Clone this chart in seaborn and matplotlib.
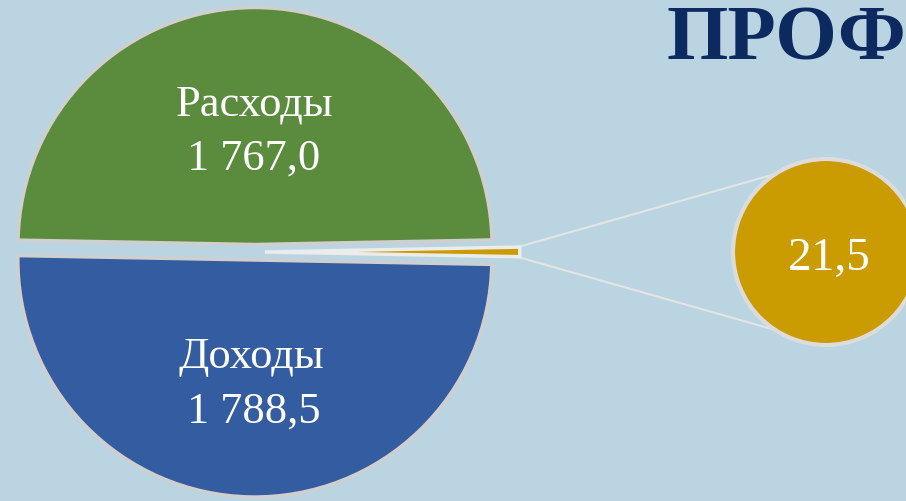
import numpy as np
import matplotlib
matplotlib.use("Agg")
import matplotlib.pyplot as plt
import seaborn as sns

# data
names = ["Расходы", "Доходы", ""]
values = [1767.0, 1788.5, 21.5]
value_labels = ["1 767,0", "1 788,5", "21,5"]
colors = ["#5b8b3d", "#345ca0", "#cb9b02"]
title = "ПРОФ"

sns.set_style("white")
plt.rcParams["font.family"] = ["Liberation Serif", "DejaVu Serif"]

bg = "#bad5e1"
W, H = 906, 502
fig = plt.figure(figsize=(W / 100, H / 100), dpi=100, facecolor=bg)
ax = fig.add_axes([0, 0, 1, 1])
ax.set_facecolor(bg)

# main pie (pixel coordinates, y measured upward); explode is in data units here
cx, cy, r = 255, H - 253, 237
wedges, _ = ax.pie(values, colors=colors, startangle=1.1, counterclock=True,
                   explode=[7.5, 8.0, 10.0], radius=r, center=(cx, cy),
                   wedgeprops=dict(edgecolor="#cfcfcf", linewidth=2.5))
wedges[2].set_radius(r * 1.075)
wedges[2].set_edgecolor("#ececec")

# second circle for the small slice
sx, sy, sr = 826, H - 253, 93
circ, _ = ax.pie([values[2]], colors=[colors[2]], radius=sr, center=(sx, sy),
                 wedgeprops=dict(edgecolor="#dcdcdc", linewidth=3))

# connector lines from the small wedge tip to the circle
tip = wedges[2]
tx = tip.center[0] + tip.r
ty = tip.center[1]
for sign in (1, -1):
    ang = np.deg2rad(123 * sign)
    ax.plot([tx, sx + sr * np.cos(ang)],
            [ty + 5.5 * sign, sy + sr * np.sin(ang)],
            color="#e4e4e4", lw=1.5, zorder=0.5)

# labels
ax.text(254, H - 115, names[0], color="white", fontsize=32, ha="center", va="baseline")
ax.text(254, H - 170, value_labels[0], color="white", fontsize=32, ha="center", va="baseline")
ax.text(251, H - 368, names[1], color="white", fontsize=32, ha="center", va="baseline")
ax.text(254, H - 423, value_labels[1], color="white", fontsize=32, ha="center", va="baseline")
ax.text(829, H - 270, value_labels[2], color="white", fontsize=34, ha="center", va="baseline")

ax.text(666, H - 59, title, color="#0c2a60", fontsize=57, fontweight="bold",
        ha="left", va="baseline")

ax.set_xlim(0, W)
ax.set_ylim(0, H)
ax.set_aspect("equal")
ax.axis("off")

fig.savefig("out.png", dpi=100, facecolor=bg)
